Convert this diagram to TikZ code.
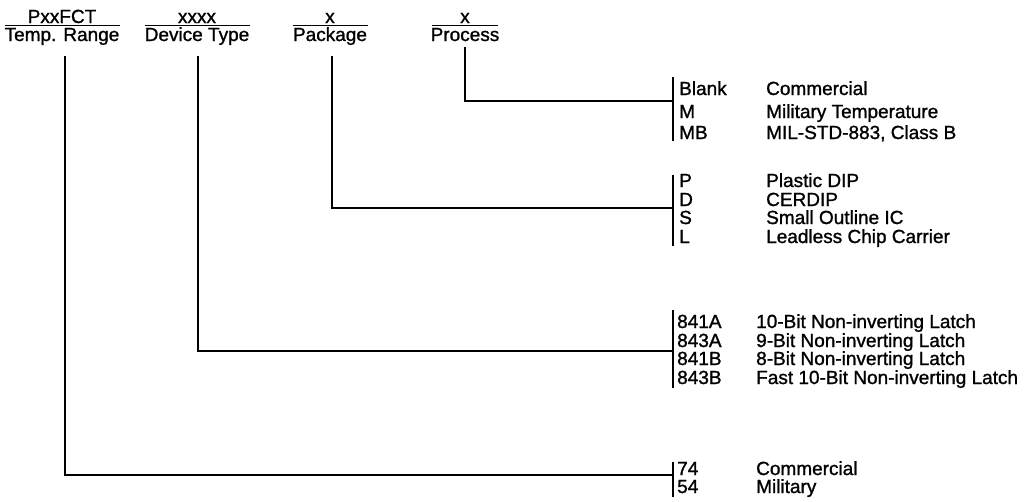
\documentclass[tikz,border=0pt]{standalone}
\usepackage{fontspec}
\setmainfont{Liberation Sans}[FakeBold=1.2]
\begin{document}
\begin{tikzpicture}[x=1pt,y=-1pt,
  lbl/.style={inner sep=0pt, anchor=base west, font=\fontsize{19}{20}\selectfont},
  hdr/.style={inner sep=0pt, anchor=base, font=\fontsize{19}{20}\selectfont},
  wire/.style={line width=2pt},
  rulel/.style={line width=1.6pt}]
\useasboundingbox (0,0) rectangle (1026,501);
% headers
\node[hdr] (t1) at (62,23) {PxxFCT};
\node[hdr] (b1) at (62,41) {Temp. Range};
\node[hdr] (t2) at (197,23) {xxxx};
\node[hdr] (b2) at (197,41) {Device Type};
\node[hdr] (t3) at (330,23) {x};
\node[hdr] (b3) at (330,41) {Package};
\node[hdr] (t4) at (465,23) {x};
\node[hdr] (b4) at (465,41) {Process};
\coordinate (u1a) at (5,25.5);   \coordinate (u1b) at (120,25.5);
\coordinate (u2a) at (145,25.5); \coordinate (u2b) at (250,25.5);
\coordinate (u3a) at (293,25.5); \coordinate (u3b) at (368,25.5);
\coordinate (u4a) at (432,25.5); \coordinate (u4b) at (498,25.5);
\draw[rulel] (u1a) -- (u1b);
\draw[rulel] (u2a) -- (u2b);
\draw[rulel] (u3a) -- (u3b);
\draw[rulel] (u4a) -- (u4b);
% stems
\coordinate (s1) at (65,56);
\coordinate (s2) at (198,56);
\coordinate (s3) at (332,56);
\coordinate (s4) at (465,47);
% bracket junctions
\coordinate (j1) at (673,475);
\coordinate (j2) at (673,351);
\coordinate (j3) at (673,208);
\coordinate (j4) at (673,101);
\draw[wire] (s1) |- (j1);
\draw[wire] (s2) |- (j2);
\draw[wire] (s3) |- (j3);
\draw[wire] (s4) |- (j4);
% brackets
\coordinate (k1t) at (673,462); \coordinate (k1b) at (673,497);
\coordinate (k2t) at (673,310); \coordinate (k2b) at (673,388);
\coordinate (k3t) at (673,175); \coordinate (k3b) at (673,246);
\coordinate (k4t) at (673,77);  \coordinate (k4b) at (673,141);
\draw[wire] (k1t) -- (k1b);
\draw[wire] (k2t) -- (k2b);
\draw[wire] (k3t) -- (k3b);
\draw[wire] (k4t) -- (k4b);
% process
\node[lbl] (pc1) at (679,95) {Blank};
\node[lbl] (pd1) at (766,95) {Commercial};
\node[lbl] (pc2) at (679,118) {M};
\node[lbl] (pd2) at (766,118) {Military Temperature};
\node[lbl] (pc3) at (679,139) {MB};
\node[lbl] (pd3) at (766,139) {MIL-STD-883, Class B};
% package
\node[lbl] (kc1) at (679,187) {P};
\node[lbl] (kd1) at (766,187) {Plastic DIP};
\node[lbl] (kc2) at (679,206) {D};
\node[lbl] (kd2) at (766,206) {CERDIP};
\node[lbl] (kc3) at (679,224) {S};
\node[lbl] (kd3) at (766,224) {Small Outline IC};
\node[lbl] (kc4) at (679,243) {L};
\node[lbl] (kd4) at (766,243) {Leadless Chip Carrier};
% device
\node[lbl] (dc1) at (677,328) {841A};
\node[lbl] (dd1) at (756,328) {10-Bit Non-inverting Latch};
\node[lbl] (dc2) at (677,347) {843A};
\node[lbl] (dd2) at (756,347) {9-Bit Non-inverting Latch};
\node[lbl] (dc3) at (677,365) {841B};
\node[lbl] (dd3) at (756,365) {8-Bit Non-inverting Latch};
\node[lbl] (dc4) at (677,384) {843B};
\node[lbl] (dd4) at (756,384) {Fast 10-Bit Non-inverting Latch};
% temp
\node[lbl] (tc1) at (677,475) {74};
\node[lbl] (td1) at (756,475) {Commercial};
\node[lbl] (tc2) at (677,493) {54};
\node[lbl] (td2) at (756,493) {Military};
\end{tikzpicture}
\end{document}
